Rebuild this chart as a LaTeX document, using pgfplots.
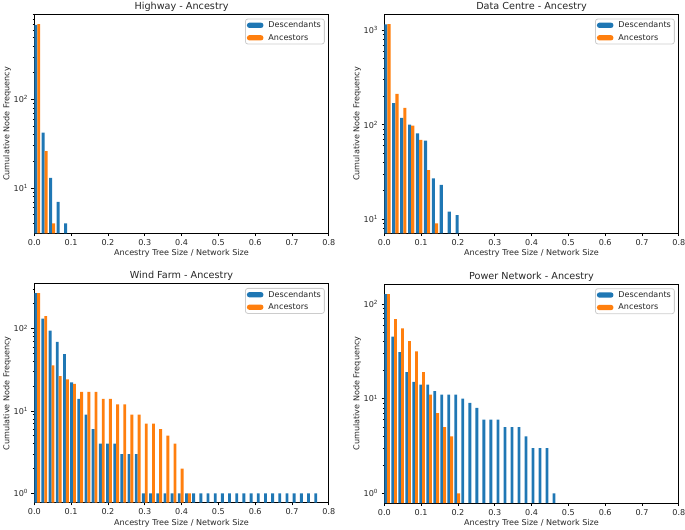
\documentclass[border=0pt]{standalone}
\usepackage{fontspec}
\setmainfont{DejaVu Sans}
\usepackage{pgfplots}
\pgfplotsset{compat=1.18}
\usepackage{pgfplotstable}
\definecolor{tabblue}{HTML}{1F77B4}
\definecolor{taborange}{HTML}{FF7F0E}
\newcommand{\tkfont}{\fontsize{8.1}{9.7}\selectfont}
\newcommand{\ttlfont}{\fontsize{9.7}{11.6}\selectfont}

% x = left edge of the bin, d = descendants, a = ancestors
\pgfplotstableread{
x d a
0 690 700
0.0202 42 26
0.0404 13 4
0.0606 7 nan
0.0808 4 nan
}\hw

\pgfplotstableread{
x d a
0 1157 1160
0.0215 169 212
0.043 118 151
0.0645 100 98
0.086 81 69
0.1075 68 33
0.129 27 9
0.1505 23 nan
0.172 12 nan
0.1935 11 nan
}\dc

\pgfplotstableread{
x d a
0 268 268
0.0195 132 141
0.039 94 35.6
0.0585 69 26.4
0.078 49 24.1
0.0975 22.2 21.3
0.117 14 17
0.1365 9 17
0.156 6 17
0.1755 4 14
0.195 4 14
0.2145 4 12
0.234 3 12
0.2535 3 9
0.273 3 9
0.2925 1 7
0.312 1 7
0.3315 1 6
0.351 1 5
0.3705 1 4
0.39 1 2
0.4095 1 1
0.429 1 nan
0.4485 1 nan
0.468 1 nan
0.4875 1 nan
0.507 1 nan
0.5265 1 nan
0.546 1 nan
0.5655 1 nan
0.585 1 nan
0.6045 1 nan
0.624 1 nan
0.6435 1 nan
0.663 1 nan
0.6825 1 nan
0.702 1 nan
0.7215 1 nan
0.741 1 nan
0.7605 1 nan
}\wf

\pgfplotstableread{
x d a
0 127 127
0.01905 45 69
0.0381 31 55
0.05715 19 40.5
0.0762 15 31.5
0.09525 14 19
0.1143 14 11
0.13335 12 7
0.1524 11 5
0.17145 11 4
0.1905 11 1
0.20955 10 nan
0.2286 9 nan
0.24765 8 nan
0.2667 6 nan
0.28575 6 nan
0.3048 6 nan
0.32385 5 nan
0.3429 5 nan
0.36195 5 nan
0.381 4 nan
0.40005 3 nan
0.4191 3 nan
0.43815 3 nan
0.4572 1 nan
}\pn

\pgfplotsset{
    scale only axis, width=294.5bp, height=219bp,
    log basis y=10, log origin=infty,
    xmin=0, xmax=0.8,
    xtick={0,0.1,0.2,0.3,0.4,0.5,0.6,0.7,0.8},
    ytick={1,10,100,1000},
    minor ytick={2,3,4,5,6,7,8,9,20,30,40,50,60,70,80,90,200,300,400,500,600,700,800,900,2000},
    yticklabel={10\textsuperscript{\pgfmathparse{int(round(\tick))}\pgfmathresult}},
    /pgf/number format/assume math mode=true,
    x tick label style={/pgf/number format/fixed, /pgf/number format/fixed zerofill, /pgf/number format/precision=1},
    tick label style={font=\tkfont, text=black!85},
    tick align=outside, tick pos=left,
    major tick length=2.8bp, minor tick length=1.6bp,
    tick style={black, line width=0.64bp},
    minor tick style={line width=0.5bp},
    axis line style={line width=0.64bp, black},
    title style={at={(axis description cs:0.5,1)}, anchor=base, yshift=-1.2bp, font=\ttlfont, text=black!85},
    xlabel={Ancestry Tree Size / Network Size},
    ylabel={Cumulative Node Frequency},
    xlabel style={at={(axis description cs:0.5,0)}, anchor=base, yshift=-22.6bp, font=\tkfont, text=black!85},
    ylabel style={at={(axis description cs:-0.0849,0.5)}, anchor=base, font=\tkfont, text=black!85},
    legend style={at={(axis description cs:1,1)}, anchor=north east, xshift=-4bp, yshift=-4.3bp,
      draw=black!20, line width=0.8bp, rounded corners=2.4bp, fill=white,
      font=\tkfont, text=black!85, inner xsep=1.5bp, inner ysep=0.5bp, row sep=1bp,
      nodes={inner sep=2bp, text depth=0.15em},
      /tikz/every odd column/.append style={column sep=3bp}},
    legend cell align=left,
}

\begin{document}
\begin{tikzpicture}
\path[use as bounding box] (0,0) rectangle (685bp,530bp);

\begin{axis}[ymode=log, at={(34.3bp,296.7bp)}, anchor=south west, title={Highway - Ancestry}, ymin=3.09, ymax=906]
\addplot[ybar, bar width=0.00808, bar shift=1.487bp, fill=tabblue, draw=none,
  legend image code/.code={\fill[tabblue] (0bp,-2.6bp) rectangle (16.5bp,2.6bp);}] table[x=x,y=d]{\hw};
\addplot[ybar, bar width=0.00808, bar shift=4.462bp, fill=taborange, draw=none,
  legend image code/.code={\fill[taborange] (0bp,-2.6bp) rectangle (16.5bp,2.6bp);}] table[x=x,y=a]{\hw};
\legend{Descendants, Ancestors}
\end{axis}

\begin{axis}[ymode=log, at={(384.3bp,296.7bp)}, anchor=south west, title={Data Centre - Ancestry}, ymin=7.07, ymax=1479]
\addplot[ybar, bar width=0.0086, bar shift=1.583bp, fill=tabblue, draw=none,
  legend image code/.code={\fill[tabblue] (0bp,-2.6bp) rectangle (16.5bp,2.6bp);}] table[x=x,y=d]{\dc};
\addplot[ybar, bar width=0.0086, bar shift=4.749bp, fill=taborange, draw=none,
  legend image code/.code={\fill[taborange] (0bp,-2.6bp) rectangle (16.5bp,2.6bp);}] table[x=x,y=a]{\dc};
\legend{Descendants, Ancestors}
\end{axis}

\begin{axis}[ymode=log, at={(34.3bp,27.3bp)}, anchor=south west, title={Wind Farm - Ancestry}, ymin=0.77, ymax=350]
\addplot[ybar, bar width=0.0078, bar shift=1.436bp, fill=tabblue, draw=none,
  legend image code/.code={\fill[tabblue] (0bp,-2.6bp) rectangle (16.5bp,2.6bp);}] table[x=x,y=d]{\wf};
\addplot[ybar, bar width=0.0078, bar shift=4.307bp, fill=taborange, draw=none,
  legend image code/.code={\fill[taborange] (0bp,-2.6bp) rectangle (16.5bp,2.6bp);}] table[x=x,y=a]{\wf};
\legend{Descendants, Ancestors}
\end{axis}

\begin{axis}[ymode=log, at={(384.3bp,27bp)}, anchor=south west, title={Power Network - Ancestry}, ymin=0.79, ymax=162]
\addplot[ybar, bar width=0.00762, bar shift=1.403bp, fill=tabblue, draw=none,
  legend image code/.code={\fill[tabblue] (0bp,-2.6bp) rectangle (16.5bp,2.6bp);}] table[x=x,y=d]{\pn};
\addplot[ybar, bar width=0.00762, bar shift=4.208bp, fill=taborange, draw=none,
  legend image code/.code={\fill[taborange] (0bp,-2.6bp) rectangle (16.5bp,2.6bp);}] table[x=x,y=a]{\pn};
\legend{Descendants, Ancestors}
\end{axis}
\end{tikzpicture}
\end{document}
